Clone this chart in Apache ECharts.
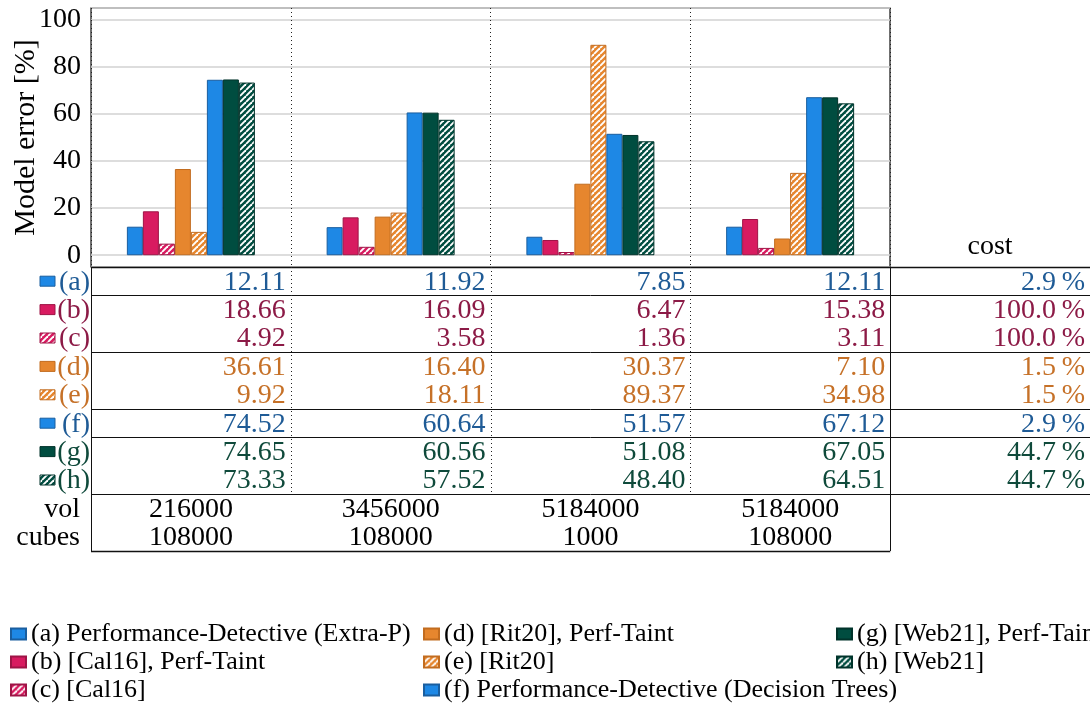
<!DOCTYPE html>
<html>
<head>
<meta charset="utf-8">
<script src="https://cdn.jsdelivr.net/npm/echarts@6/dist/echarts.min.js"></script>
<style>
  html, body { margin: 0; padding: 0; background: #fff; }
  #chart { width: 1090px; height: 708px; }
</style>
</head>
<body>
<div id="chart"></div>
<script>
// ---- data -----------------------------------------------------------------
const groups = ['216000 / 108000', '3456000 / 108000', '5184000 / 1000', '5184000 / 108000'];
const volumes = ['216000', '3456000', '5184000', '5184000'];
const cubeCounts = ['108000', '108000', '1000', '108000'];

const methodTags = ['(a)', '(b)', '(c)', '(d)', '(e)', '(f)', '(g)', '(h)'];
const methodNames = [
  '(a) Performance-Detective (Extra-P)',
  '(b) [Cal16], Perf-Taint',
  '(c) [Cal16]',
  '(d) [Rit20], Perf-Taint',
  '(e) [Rit20]',
  '(f) Performance-Detective (Decision Trees)',
  '(g) [Web21], Perf-Taint',
  '(h) [Web21]'
];

// model error [%] per group
const errA = [12.11, 11.92, 7.85, 12.11];
const errB = [18.66, 16.09, 6.47, 15.38];
const errC = [4.92, 3.58, 1.36, 3.11];
const errD = [36.61, 16.40, 30.37, 7.10];
const errE = [9.92, 18.11, 89.37, 34.98];
const errF = [74.52, 60.64, 51.57, 67.12];
const errG = [74.65, 60.56, 51.08, 67.05];
const errH = [73.33, 57.52, 48.40, 64.51];

// relative cost [%] per method
const costPct = [2.9, 100.0, 100.0, 1.5, 1.5, 2.9, 44.7, 44.7];

const rowExtras = ['vol', 'cubes'];
const costHeader = 'cost';
const yAxisTitle = 'Model error [%]';

// ---- styling ----------------------------------------------------------------
const FONT = 'Liberation Serif';
const palette = {
  blue:    { fill: '#1e88e5', edge: '#1a5e9f', text: '#1f5b96' },
  crimson: { fill: '#d81b60', edge: '#9e1446', text: '#8c1a46' },
  orange:  { fill: '#e6862e', edge: '#c26c1f', text: '#c67128' },
  green:   { fill: '#004d40', edge: '#00332a', text: '#0f4a3b' }
};
const methodColor = ['blue', 'crimson', 'crimson', 'orange', 'orange', 'blue', 'green', 'green'];
const methodHatched = [false, false, true, false, true, false, false, true];
const errors = [errA, errB, errC, errD, errE, errF, errG, errH];

// diagonal white stripes on a colour, tiled as a pattern
function hatchTile(color) {
  const s = 6;
  const c = document.createElement('canvas');
  c.width = s; c.height = s;
  const g = c.getContext('2d');
  g.fillStyle = color;
  g.fillRect(0, 0, s, s);
  g.strokeStyle = '#ffffff';
  g.lineWidth = 1.9;
  for (let k = -s; k <= s; k += s) {
    g.beginPath();
    g.moveTo(k, s);
    g.lineTo(k + s, 0);
    g.stroke();
  }
  return c;
}
function methodFill(i) {
  const col = palette[methodColor[i]].fill;
  return methodHatched[i] ? { image: hatchTile(col), repeat: 'repeat' } : col;
}

// ---- table cells ------------------------------------------------------------
const tableCells = [];
methodTags.forEach((tag, i) => {
  const color = palette[methodColor[i]].text;
  errors[i].forEach((v, g) => {
    tableCells.push({ col: g, row: i, text: v.toFixed(2), align: 'right', color });
  });
  tableCells.push({ col: groups.length, row: i, text: costPct[i].toFixed(1) + '\u2009%', align: 'right', color });
});
volumes.forEach((v, g) => tableCells.push({ col: g, row: methodTags.length, text: v, align: 'center', color: '#000' }));
cubeCounts.forEach((v, g) => tableCells.push({ col: g, row: methodTags.length + 1, text: v, align: 'center', color: '#000' }));

const tableRows = methodTags.concat(rowExtras);
const tableCols = groups.concat([costHeader]);
const groupBreaks = [0, 2, 4, 5, 7]; // rows after which a separator is drawn

// ---- chart ------------------------------------------------------------------
const chart = echarts.init(document.getElementById('chart'), null, { renderer: 'canvas' });

const barSeries = methodNames.map((name, i) => ({
  name,
  type: 'bar',
  xAxisIndex: 0,
  yAxisIndex: 0,
  barWidth: 16,
  barGap: '0%',
  data: errors[i],
  itemStyle: {
    color: methodFill(i),
    borderColor: palette[methodColor[i]].edge,
    borderWidth: 1
  },
  emphasis: { disabled: true }
}));

// table values
const cellSeries = {
  type: 'custom',
  xAxisIndex: 1,
  yAxisIndex: 1,
  silent: true,
  data: tableCells.map(c => [c.col, c.row]),
  renderItem(params, api) {
    const cell = tableCells[params.dataIndex];
    const p = api.coord([cell.col, cell.row]);
    const s = api.size([1, 1]);
    const x = cell.align === 'right' ? p[0] + s[0] / 2 - 5 : p[0];
    return {
      type: 'text',
      x: x,
      y: p[1] + 1,
      style: {
        text: cell.text,
        align: cell.align,
        verticalAlign: 'middle',
        font: '28px "' + FONT + '"',
        fill: cell.color
      }
    };
  }
};

// table rules, row headers and column header
const frameSeries = {
  type: 'custom',
  xAxisIndex: 1,
  yAxisIndex: 1,
  silent: true,
  data: [[0, 0]],
  renderItem(params, api) {
    const cs = params.coordSys;
    const nRows = tableRows.length;
    const nCols = tableCols.length;
    const rowH = cs.height / nRows;
    const colW = cs.width / nCols;
    const L = cs.x, R = cs.x + cs.width, T = cs.y, B = cs.y + cs.height;
    const plotR = cs.x + colW * groups.length;
    const px = v => Math.round(v) + 0.5;
    const kids = [];
    const line = (x1, y1, x2, y2, style) => kids.push({
      type: 'line',
      shape: { x1, y1, x2, y2 },
      style: Object.assign({ stroke: '#111', lineWidth: 1 }, style || {})
    });

    // horizontal separators
    line(L, px(T), R, px(T), { lineWidth: 1.4 });
    groupBreaks.forEach(r => line(L, px(T + (r + 1) * rowH), R, px(T + (r + 1) * rowH)));
    line(L, px(B), plotR, px(B), { lineWidth: 1.4 });
    // vertical borders
    line(px(L), T, px(L), B);
    line(px(plotR), T, px(plotR), B);
    // dotted group dividers through the value rows
    for (let g = 1; g < groups.length; g++) {
      const x = px(L + g * colW);
      line(x, T, x, T + methodTags.length * rowH, { lineDash: [1, 3], stroke: '#222' });
    }
    // column header
    kids.push({
      type: 'text',
      x: L + colW * (nCols - 0.5),
      y: T - 20,
      style: { text: costHeader, align: 'center', verticalAlign: 'middle', font: '28px "' + FONT + '"', fill: '#000' }
    });
    // row headers with swatches
    methodTags.forEach((tag, i) => {
      const cy = T + (i + 0.5) * rowH;
      const pal = palette[methodColor[i]];
      kids.push({
        type: 'rect',
        shape: { x: L - 51, y: cy - 5, width: 15, height: 10 },
        style: { fill: methodFill(i), stroke: pal.edge, lineWidth: 1 }
      });
      kids.push({
        type: 'text',
        x: L - 1,
        y: cy + 1,
        style: { text: tag, align: 'right', verticalAlign: 'middle', font: '28px "' + FONT + '"', fill: pal.text }
      });
    });
    rowExtras.forEach((lab, k) => {
      const cy = T + (methodTags.length + k + 0.5) * rowH;
      kids.push({
        type: 'text',
        x: L - 11,
        y: cy + 1,
        style: { text: lab, align: 'right', verticalAlign: 'middle', font: '28px "' + FONT + '"', fill: '#000' }
      });
    });
    return { type: 'group', children: kids };
  }
};

const legendLefts = [10, 423, 836];
const legendCols = [methodNames.slice(0, 3), methodNames.slice(3, 6), methodNames.slice(6)];

chart.setOption({
  animation: false,
  backgroundColor: '#fff',
  textStyle: { fontFamily: FONT },
  grid: [
    { left: 91, top: 8, width: 799, height: 259, show: true, borderColor: '#111', borderWidth: 1.2,
      backgroundColor: 'transparent', outerBoundsMode: 'none', containLabel: false },
    { left: 91, top: 267, width: 999, height: 284, show: false, outerBoundsMode: 'none', containLabel: false }
  ],
  xAxis: [
    {
      type: 'category', gridIndex: 0, data: groups,
      axisLine: { show: false }, axisTick: { show: false }, axisLabel: { show: false },
      splitLine: { show: true, interval: 0, lineStyle: { type: [1, 3], color: '#222', width: 1 } }
    },
    {
      type: 'category', gridIndex: 1, data: tableCols,
      axisLine: { show: false }, axisTick: { show: false }, axisLabel: { show: false }, splitLine: { show: false }
    }
  ],
  yAxis: [
    {
      type: 'value', gridIndex: 0, min: -5, max: 105, splitNumber: 5,
      name: yAxisTitle, nameLocation: 'middle', nameGap: 50, nameRotate: 90, nameMoveOverlap: false,
      nameTextStyle: { fontFamily: FONT, fontSize: 30, color: '#000' },
      axisLine: { show: false }, axisTick: { show: false },
      axisLabel: {
        fontFamily: FONT, fontSize: 28, color: '#000', margin: 10,
        showMinLabel: false, showMaxLabel: false,
        formatter: v => (v % 20 === 0 ? String(v) : '')
      },
      splitLine: { show: true, lineStyle: { color: '#d2d2d2', width: 1.6 } }
    },
    {
      type: 'category', gridIndex: 1, data: tableRows, inverse: true,
      axisLine: { show: false }, axisTick: { show: false }, axisLabel: { show: false }, splitLine: { show: false }
    }
  ],
  legend: legendCols.map((names, k) => ({
    data: names,
    orient: 'vertical',
    left: legendLefts[k],
    top: 621,
    padding: 0,
    itemWidth: 15,
    itemHeight: 11,
    itemGap: 2,
    icon: 'rect',
    selectedMode: false,
    textStyle: { fontFamily: FONT, fontSize: 26, color: '#000' }
  })),
  series: barSeries.concat([cellSeries, frameSeries])
});
</script>
</body>
</html>
